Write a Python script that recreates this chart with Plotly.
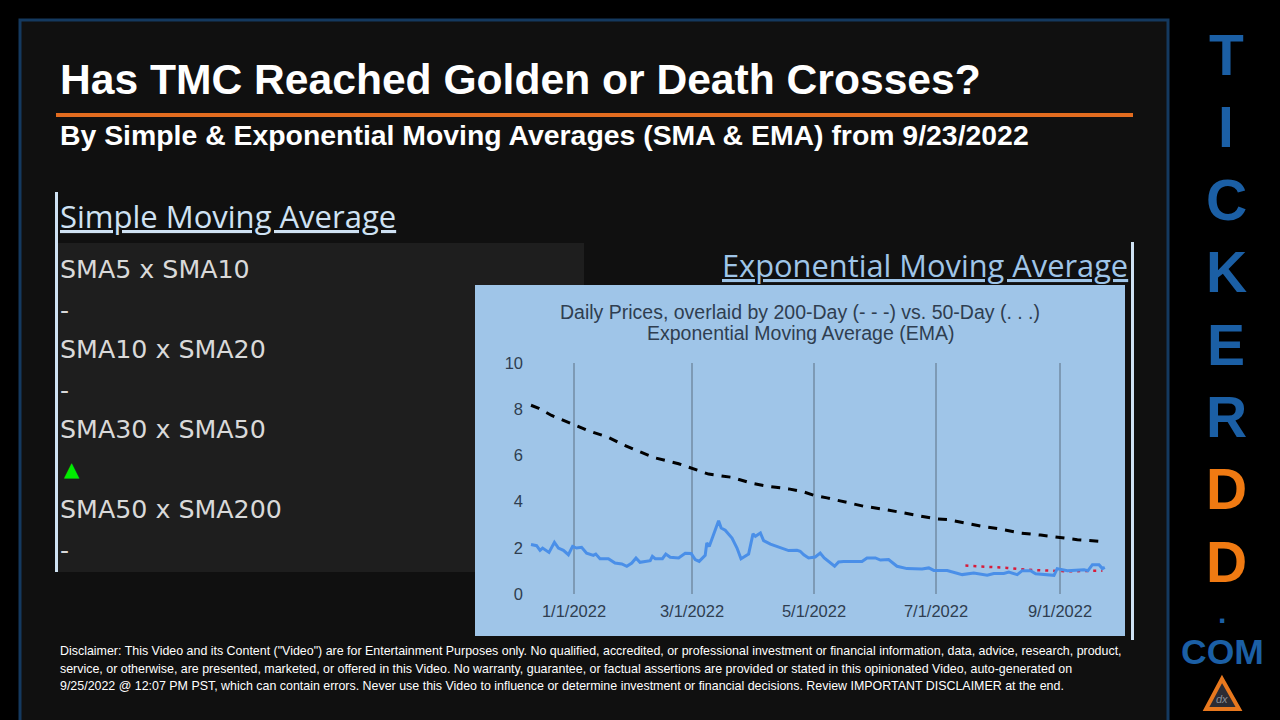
import pandas as pd
import plotly.graph_objects as go

W, H = 1280, 720

# дни от 1/1/2022
price_days = [-21.5, -18.7, -17, -15.7, -12.5, -9.8, -7.8, -5.3, -2.8, -0.7, 1.3, 3.8, 6.3, 9.7, 10.9, 13,
              17.2, 20.5, 23.9, 26.4, 28.9, 31, 33, 38.1, 39.2, 40.6, 44.2, 45.9, 48.1, 52.3, 55.6, 58.6,
              60.6, 62.6, 65.6, 66.4, 67.6, 72.3, 73.6, 75.6, 79, 81.5, 83.5, 87.3, 89.5, 90.7, 93.2, 94.8,
              98.2, 102.3, 107.3, 111.5, 113.1, 114.9, 117.3, 120.6, 123.1, 125.1, 130.3, 132.3, 134.8, 144,
              146.5, 150.7, 153.2, 157.3, 161.5, 166.5, 174, 177.4, 179.9, 186.6, 194.1, 199.9, 206.6, 209.9,
              214.9, 217.4, 221.6, 224.1, 228.3, 230.8, 240, 241.6, 246.7, 255, 257, 259.2, 262.5, 264.2, 265.4]
price_values = [2.14, 2.09, 1.89, 1.99, 1.80, 2.24, 1.99, 1.89, 1.70, 2.06, 1.99, 2.02, 1.77, 1.67, 1.73, 1.53,
                1.53, 1.34, 1.30, 1.20, 1.34, 1.56, 1.37, 1.44, 1.63, 1.53, 1.53, 1.73, 1.59, 1.56, 1.76, 1.75,
                1.49, 1.41, 1.67, 2.21, 2.06, 3.17, 2.86, 2.76, 2.42, 1.99, 1.53, 1.73, 2.60, 2.50, 2.64, 2.31,
                2.16, 2.02, 1.88, 1.89, 1.85, 1.70, 1.56, 1.60, 1.77, 1.56, 1.20, 1.39, 1.41, 1.41,
                1.56, 1.56, 1.47, 1.49, 1.20, 1.10, 1.08, 1.13, 1.02, 1.02, 0.84, 0.91, 0.81, 0.89,
                0.89, 0.95, 0.84, 1.01, 1.01, 0.88, 0.81, 1.10, 1.01, 1.05, 1.01, 1.27, 1.27, 1.10, 1.15]

ema200_days = [-21.5, -17.9, -11.2, 0, 7.2, 17.2, 23.9, 32.2, 40.6, 52.3, 59, 67.3, 79, 89, 97.3, 107.3, 114.8, 120,
               126.5, 135.6, 144.8, 154.8, 164.9, 174.9, 181, 186.6, 194.9, 203.3, 213.3, 223.3, 233.3, 243, 251.7, 264]
ema200_values = [8.17, 8.05, 7.73, 7.33, 7.07, 6.78, 6.49, 6.18, 5.89, 5.64, 5.45, 5.19, 5.05, 4.79, 4.66, 4.55, 4.42, 4.27,
                 4.16, 3.98, 3.80, 3.67, 3.51, 3.35, 3.25, 3.22, 3.07, 2.94, 2.81, 2.64, 2.55, 2.45, 2.35, 2.27]

ema50_days = [195.7, 206.6, 216.6, 226.6, 236.6, 246.7, 264.2]
ema50_values = [1.23, 1.19, 1.13, 1.05, 1.01, 0.98, 1.01]

tick_dates = ['2022-01-01', '2022-03-01', '2022-05-01', '2022-07-01', '2022-09-01']
tick_labels = ['1/1/2022', '3/1/2022', '5/1/2022', '7/1/2022', '9/1/2022']
y_ticks = [0, 2, 4, 6, 8, 10]

sma_rows = ['SMA5 x SMA10', 'SMA10 x SMA20', 'SMA30 x SMA50', 'SMA50 x SMA200']
sma_marks = ['-', '-', '▲', '-']
brand_letters = ['T', 'I', 'C', 'K', 'E', 'R', 'D', 'D']
disclaimer = [
    'Disclaimer: This Video and its Content ("Video") are for Entertainment Purposes only. No qualified, accredited, or professional investment or financial information, data, advice, research, product,',
    'service, or otherwise, are presented, marketed, or offered in this Video. No warranty, guarantee, or factual assertions are provided or stated in this opinionated Video, auto-generated on',
    '9/25/2022 @ 12:07 PM PST, which can contain errors. Never use this Video to influence or determine investment or financial decisions. Review IMPORTANT DISCLAIMER at the end.',
]

start = pd.Timestamp('2022-01-01')


def to_dates(days):
    return start + pd.to_timedelta(days, unit='D')


def px_x(x):
    return x / W


def px_y(y):
    return 1 - y / H


def rect(x0, y0, x1, y1, fill, line=None, width=0):
    return dict(type='rect', xref='paper', yref='paper', layer='below',
                x0=px_x(x0), x1=px_x(x1), y0=px_y(y0), y1=px_y(y1), fillcolor=fill,
                line=dict(color=line, width=width) if line else dict(width=0))


def text(x, y, s, size, color, family='Liberation Sans', anchor='left', **font):
    return dict(x=px_x(x), y=px_y(y), xref='paper', yref='paper', text=s, showarrow=False,
                xanchor=anchor, yanchor='middle', align=anchor, borderpad=0, borderwidth=0,
                font=dict(family=family, size=size, color=color, **font))


fig = go.Figure()
fig.add_trace(go.Scatter(x=to_dates(ema200_days), y=ema200_values, mode='lines', name='EMA200',
                         line=dict(color='#000000', width=3, dash='9px,8px')))
fig.add_trace(go.Scatter(x=to_dates(ema50_days), y=ema50_values, mode='lines', name='EMA50',
                         line=dict(color='#d81b3a', width=2.5, dash='3px,5px')))
fig.add_trace(go.Scatter(x=to_dates(price_days), y=price_values, mode='lines', name='Price',
                         line=dict(color='#4a8fe8', width=3)))

shapes = [
    rect(20, 20, 1168, 740, '#101010', '#14395f', 3),
    rect(58, 243, 584, 572, '#1e1e1e'),
    rect(55, 192, 58, 572, '#cfe2f3'),
    rect(1131, 242, 1134, 640, '#cfe2f3'),
    rect(56, 113, 1133, 117, '#e36c1f'),
    rect(475, 285, 1125, 636, '#9fc5e8'),
    # логотип
    dict(type='path', xref='paper', yref='paper', layer='above', fillcolor='#2b2b33',
         line=dict(color='#e8781e', width=4),
         path=f'M {px_x(1222)} {px_y(679)} L {px_x(1239)} {px_y(709)} L {px_x(1206)} {px_y(709)} Z'),
]

notes = [
    text(60, 79, 'Has TMC Reached Golden or Death Crosses?', 42.6, '#ffffff', weight='bold'),
    text(60, 135, 'By Simple & Exponential Moving Averages (SMA & EMA) from 9/23/2022', 28.4, '#ffffff', weight='bold'),
    text(60, 216, 'Simple Moving Average', 31, '#cfe2f3', family='Open Sans', lineposition='under'),
    text(1128, 265, 'Exponential Moving Average', 30.8, '#9fc5e8', family='Open Sans', anchor='right', lineposition='under'),
    text(800, 333, 'Exponential Moving Average (EMA)', 19.5, '#2f3e50', anchor='center'),
    text(1222, 699, 'dx', 11, '#8a8f98', anchor='center', style='italic'),
]
for i, (row, mark) in enumerate(zip(sma_rows, sma_marks)):
    notes.append(text(60, 269 + 80 * i, row, 25.3, '#d9d9d9', family='DejaVu Sans'))
    if mark == '▲':
        notes.append(text(64, 309 + 80 * i, mark, 20, '#00ee00', family='DejaVu Sans'))
    else:
        notes.append(text(60, 310 + 80 * i, mark, 25, '#d9d9d9', family='DejaVu Sans'))
for i, line in enumerate(disclaimer):
    notes.append(text(60, 651 + 17.5 * i, line, 12.43, '#ffffff'))
for i, letter in enumerate(brand_letters):
    color = '#f07a12' if letter == 'D' else '#1b5fa5'
    notes.append(text(1226, 55 + 72.4 * i, letter, 57, color, anchor='center', weight='bold'))
notes.append(text(1222, 612, '.', 30, '#1b5fa5', anchor='center', weight='bold'))
notes.append(text(1222, 652, 'COM', 35.5, '#1b5fa5', anchor='center', weight='bold'))

fig.update_layout(
    width=W, height=H, margin=dict(l=0, r=0, t=0, b=0), autosize=False,
    paper_bgcolor='#000000', plot_bgcolor='rgba(0,0,0,0)', showlegend=False,
    title=dict(text='Daily Prices, overlaid by 200-Day (- - -) vs. 50-Day (. . .)',
               x=800 / W, xref='container', xanchor='center', y=px_y(312), yref='container', yanchor='middle',
               font=dict(family='Liberation Sans', size=19.5, color='#2f3e50')),
    xaxis=dict(domain=[px_x(528), px_x(1110)], type='date', range=['2021-12-09', '2022-09-26'],
               tickmode='array', tickvals=tick_dates, ticktext=tick_labels, ticks='', automargin=False,
               ticklabelstandoff=5,
               showgrid=True, gridcolor='#7d9ab5', gridwidth=1.5, showline=False, zeroline=False,
               tickfont=dict(family='Liberation Sans', size=16.5, color='#2f3e50')),
    yaxis=dict(domain=[px_y(594), px_y(363)], range=[0, 10], tickmode='array', tickvals=y_ticks,
               showgrid=False, zeroline=False, showline=False, ticks='', automargin=False,
               ticklabelstandoff=4,
               tickfont=dict(family='Liberation Sans', size=16.5, color='#2f3e50')),
    shapes=shapes, annotations=notes,
)

fig.write_html('out.html', config=dict(displayModeBar=False), post_script="document.body.style.margin='0';")
